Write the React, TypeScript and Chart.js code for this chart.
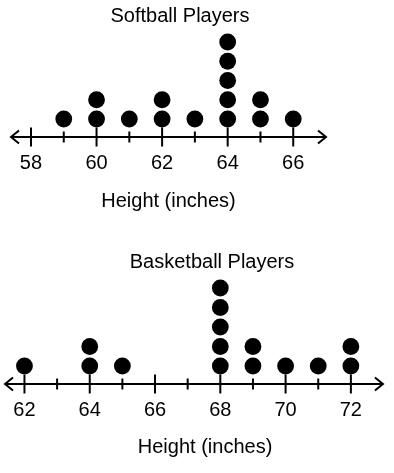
import React, { useEffect, useRef } from 'react';
import { Chart, registerables } from 'chart.js';

Chart.register(...registerables);

// ---- Data ----
const softballHeights = [58, 59, 60, 61, 62, 63, 64, 65, 66];
const softballCounts = [0, 1, 2, 1, 2, 1, 5, 2, 1];
const softballTickLabels = [58, 60, 62, 64, 66];

const basketballHeights = [62, 63, 64, 65, 66, 67, 68, 69, 70, 71, 72];
const basketballCounts = [1, 0, 2, 1, 0, 0, 5, 2, 1, 1, 2];
const basketballTickLabels = [62, 64, 66, 68, 70, 72];

const FONT = '"Liberation Sans", Arial, Helvetica, sans-serif';
Chart.defaults.font.family = FONT;

function stackPoints(heights: number[], counts: number[]) {
  const pts: { x: number; y: number }[] = [];
  heights.forEach((h, i) => {
    for (let k = 1; k <= counts[i]; k++) pts.push({ x: h, y: k });
  });
  return pts;
}

const numberLinePlugin = {
  id: 'numberLine',
  beforeDatasetsDraw(chart: any, _args: any, opts: any) {
    const { ctx, chartArea } = chart;
    const xs = chart.scales.x;
    const y = chartArea.bottom;
    const x0 = xs.getPixelForValue(opts.start);
    const x1 = xs.getPixelForValue(opts.end);
    ctx.save();
    ctx.strokeStyle = '#000';
    ctx.lineWidth = 2;
    ctx.lineCap = 'butt';
    ctx.lineJoin = 'miter';
    ctx.beginPath();
    ctx.moveTo(x0 + 1, y);
    ctx.lineTo(x1 - 1, y);
    ctx.stroke();
    ctx.beginPath();
    ctx.moveTo(x0 + 9, y - 6.5);
    ctx.lineTo(x0 + 1, y);
    ctx.lineTo(x0 + 9, y + 6.5);
    ctx.moveTo(x1 - 9, y - 6.5);
    ctx.lineTo(x1 - 1, y);
    ctx.lineTo(x1 - 9, y + 6.5);
    ctx.stroke();
    const heights: number[] = opts.heights;
    const labels: number[] = opts.labels;
    for (const v of heights) {
      const px = xs.getPixelForValue(v);
      const half = labels.includes(v) ? 9.5 : 5.5;
      ctx.beginPath();
      ctx.moveTo(px, y - half);
      ctx.lineTo(px, y + half);
      ctx.stroke();
    }
    ctx.restore();
  },
};

type PlotProps = {
  title: string;
  heights: number[];
  counts: number[];
  tickLabels: number[];
  top: number;
  height: number;
  pad: { left: number; right: number; top: number; bottom: number };
  yWidth: number;
  xMin: number;
  xMax: number;
  arrowStart: number;
  arrowEnd: number;
  yMin: number;
  yMax: number;
  titlePad: { top: number; bottom: number };
  tickPad: number;
  axisTitlePad: { top: number; bottom: number };
};

function DotPlot(p: PlotProps) {
  const ref = useRef<HTMLCanvasElement | null>(null);
  useEffect(() => {
    if (!ref.current) return;
    const chart = new Chart(ref.current, {
      type: 'scatter',
      data: {
        datasets: [
          {
            data: stackPoints(p.heights, p.counts),
            backgroundColor: '#000',
            borderWidth: 0,
            pointRadius: 8.4,
            pointHoverRadius: 8.4,
            clip: false as any,
          },
        ],
      },
      plugins: [numberLinePlugin as any],
      options: {
        animation: false,
        responsive: false,
        events: [],
        layout: { padding: p.pad },
        scales: {
          x: {
            type: 'linear',
            position: 'bottom',
            min: p.xMin,
            max: p.xMax,
            grid: { display: false, drawTicks: false },
            border: { display: false },
            afterBuildTicks: (s: any) => {
              s.ticks = p.tickLabels.map((v) => ({ value: v }));
            },
            ticks: {
              color: '#000',
              font: { size: 20, family: FONT },
              padding: p.tickPad,
              autoSkip: false,
              maxRotation: 0,
              callback: (v: any) => String(v),
            },
            title: {
              display: true,
              text: 'Height (inches)',
              color: '#000',
              font: { size: 20, family: FONT, lineHeight: 1.1 },
              padding: p.axisTitlePad,
            },
          },
          y: {
            type: 'linear',
            position: 'right',
            min: p.yMin,
            max: p.yMax,
            grid: { display: false, drawTicks: false },
            border: { display: false },
            ticks: { display: false },
            afterFit: (s: any) => {
              s.width = p.yWidth;
            },
          },
        },
        plugins: {
          legend: { display: false },
          tooltip: { enabled: false },
          title: {
            display: true,
            text: p.title,
            color: '#000',
            font: { size: 20, weight: 'normal', family: FONT },
            padding: p.titlePad,
          },
          numberLine: {
            start: p.arrowStart,
            end: p.arrowEnd,
            heights: p.heights,
            labels: p.tickLabels,
          },
        } as any,
      },
    });
    return () => chart.destroy();
  }, []);
  return (
    <canvas
      ref={ref}
      width={394}
      height={p.height}
      style={{ position: 'absolute', left: 0, top: p.top, width: 394, height: p.height, display: 'block' }}
    />
  );
}

export default function App() {
  return (
    <div style={{ position: 'absolute', left: 0, top: 0, width: 394, height: 473, background: '#fff' }}>
      <DotPlot
        title="Softball Players"
        heights={softballHeights}
        counts={softballCounts}
        tickLabels={softballTickLabels}
        top={0}
        height={220}
        pad={{ left: 10, right: 44, top: 0, bottom: 4 }}
        yWidth={23}
        xMin={57.36}
        xMax={67.03}
        arrowStart={57.36}
        arrowEnd={67.03}
        yMin={0.065}
        yMax={5.416}
        titlePad={{ top: 4.5, bottom: 5.5 }}
        tickPad={14.5}
        axisTitlePad={{ top: 0, bottom: 4 }}
      />
      <DotPlot
        title="Basketball Players"
        heights={basketballHeights}
        counts={basketballCounts}
        tickLabels={basketballTickLabels}
        top={236}
        height={237}
        pad={{ left: 30, right: 0, top: 0, bottom: 10.5 }}
        yWidth={16}
        xMin={62.234}
        xMax={72.831}
        arrowStart={61.373}
        arrowEnd={73.014}
        yMin={0.077}
        yMax={5.436}
        titlePad={{ top: 14.5, bottom: 5 }}
        tickPad={14}
        axisTitlePad={{ top: 0.5, bottom: 4 }}
      />
    </div>
  );
}
